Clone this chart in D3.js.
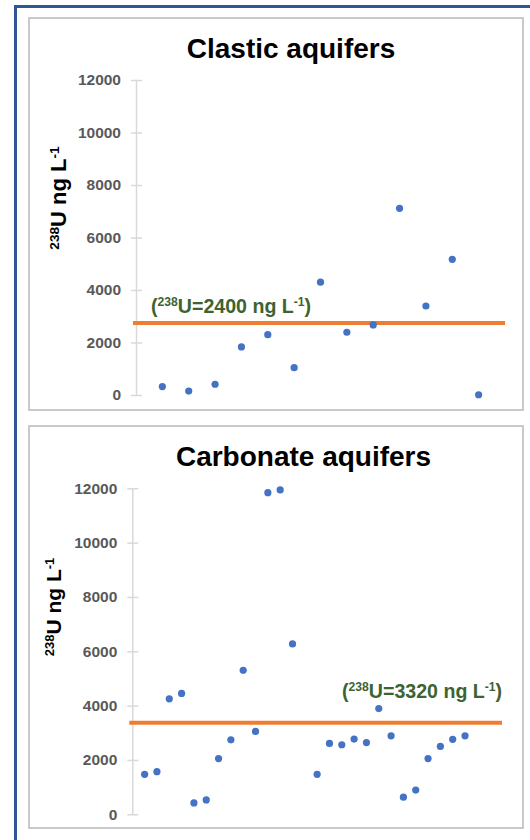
<!DOCTYPE html>
<html>
<head>
<meta charset="utf-8">
<script src="https://cdn.jsdelivr.net/npm/d3@7"></script>
<style>
  body { margin: 0; background: #fff; }
  svg { display: block; font-family: "Liberation Sans", Arial, sans-serif; }
</style>
</head>
<body>
<div id="chart"></div>
<script>
// sample index along x (Excel default 1..n), uranium values in ng/L
const clasticSample = [1, 2, 3, 4, 5, 6, 7, 8, 9, 10, 11, 12, 13];
const clasticU = [320, 150, 410, 1830, 2300, 1040, 4300, 2390, 2670, 7110, 3390, 5170, 10];

const carbonateSample = [1, 2, 3, 4, 5, 6, 7, 8, 9, 10, 11, 12, 13,
                         15, 16, 17, 18, 19, 20, 21, 22, 23, 24, 25, 26, 27];
const carbonateU = [1470, 1570, 4250, 4450, 420, 530, 2050, 2740, 5300, 3050, 11840, 11940, 6270,
                    1470, 2610, 2560, 2770, 2640, 3890, 2890, 630, 890, 2050, 2500, 2760, 2890];

const yTicks = [0, 2000, 4000, 6000, 8000, 10000, 12000];
const titles = ["Clastic aquifers", "Carbonate aquifers"];
const refLines = [2740, 3370];
const refLabels = ["2400", "3320"];

const width = 530;
const height = 840;

const svg = d3.select('#chart')
    .append('svg')
    .attr('width', width)
    .attr('height', height);

// blue outer frame (only left + top visible)
svg.append('path')
    .attr('d', `M15.5,${height + 5} L15.5,6.5 L${width + 5},6.5`)
    .attr('fill', 'none')
    .attr('stroke', '#2f5597')
    .attr('stroke-width', 3);

const panels = [
  {
    box: [29, 18, 494, 392],
    xs: clasticSample, ys: clasticU, xMax: 14,
    left: 136, right: 505, top: 80, bottom: 395,
    title: titles[0], titleX: 291, titleY: 58,
    yLabelX: 66, yLabelY: 198, yLabelSize: 22,
    ref: refLines[0], refText: refLabels[0], refX: 151, refY: 313
  },
  {
    box: [29, 426, 494, 402],
    xs: carbonateSample, ys: carbonateU, xMax: 30,
    left: 132.3, right: 502, top: 488.3, bottom: 814.3,
    title: titles[1], titleX: 303.5, titleY: 466,
    yLabelX: 61, yLabelY: 607, yLabelSize: 21,
    ref: refLines[1], refText: refLabels[1], refX: 342, refY: 698
  }
];

panels.forEach(p => {
  svg.append('rect')
      .attr('x', p.box[0])
      .attr('y', p.box[1])
      .attr('width', p.box[2])
      .attr('height', p.box[3])
      .attr('fill', '#fff')
      .attr('stroke', '#c9c9c9')
      .attr('stroke-width', 2);

  const x = d3.scaleLinear().domain([0, p.xMax]).range([p.left, p.right]);
  const y = d3.scaleLinear().domain([0, 12000]).range([p.bottom, p.top]);

  svg.append('text')
      .attr('x', p.titleX)
      .attr('y', p.titleY)
      .attr('text-anchor', 'middle')
      .style('font-size', '28px')
      .style('font-weight', 'bold')
      .attr('fill', '#000')
      .text(p.title);

  const axis = svg.append('g')
      .attr('transform', `translate(${p.left},0)`)
      .call(d3.axisLeft(y).tickValues(yTicks).tickSizeInner(5).tickSizeOuter(0).tickPadding(10)
        .tickFormat(d3.format('d')));

  axis.select('.domain').attr('stroke', '#d9d9d9').attr('stroke-width', 1.5);
  axis.selectAll('.tick line').attr('stroke', '#d9d9d9').attr('stroke-width', 1.5).attr('x1', 6);
  axis.selectAll('.tick text')
      .attr('fill', '#595959')
      .style('font-size', '15.5px')
      .style('font-weight', 'bold')
      .style('font-family', '"Liberation Sans", Arial, sans-serif');

  // y axis title
  const yl = svg.append('text')
      .attr('transform', `translate(${p.yLabelX},${p.yLabelY}) rotate(-90)`)
      .attr('text-anchor', 'middle')
      .style('font-size', p.yLabelSize + 'px')
      .style('font-weight', 'bold')
      .attr('fill', '#000');
  yl.append('tspan').attr('baseline-shift', 'super').style('font-size', '0.62em').text('238');
  yl.append('tspan').text('U ng L');
  yl.append('tspan').attr('baseline-shift', 'super').style('font-size', '0.62em').text('-1');

  // reference line
  svg.append('line')
      .attr('x1', x(0) - 3)
      .attr('x2', x(p.xMax))
      .attr('y1', y(p.ref))
      .attr('y2', y(p.ref))
      .attr('stroke', '#ed7d31')
      .attr('stroke-width', 4);

  const rl = svg.append('text')
      .attr('x', p.refX)
      .attr('y', p.refY)
      .style('font-size', '19.6px')
      .style('font-weight', 'bold')
      .attr('fill', '#3d6330');
  rl.append('tspan').text('(');
  rl.append('tspan').attr('baseline-shift', 'super').style('font-size', '0.62em').text('238');
  rl.append('tspan').text(`U=${p.refText} ng L`);
  rl.append('tspan').attr('baseline-shift', 'super').style('font-size', '0.62em').text('-1');
  rl.append('tspan').text(')');

  svg.append('g')
      .selectAll('circle')
      .data(p.xs.map((d, i) => [d, p.ys[i]]))
      .enter()
      .append('circle')
      .attr('cx', d => x(d[0]))
      .attr('cy', d => y(d[1]))
      .attr('r', 3.6)
      .attr('fill', '#4472c4');
});
</script>
</body>
</html>
